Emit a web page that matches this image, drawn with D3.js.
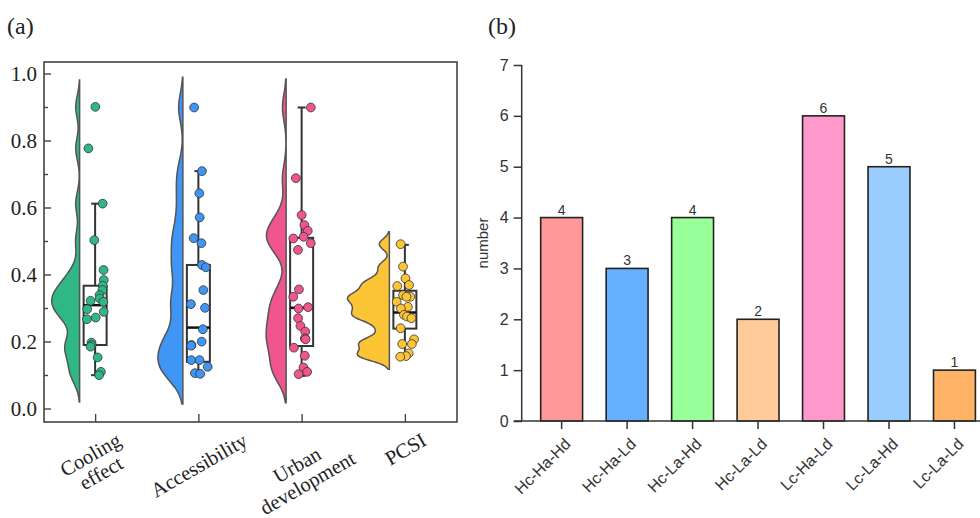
<!DOCTYPE html>
<html>
<head>
<meta charset="utf-8">
<script src="https://cdn.jsdelivr.net/npm/d3@7"></script>
<style>
  body { margin: 0; background: #fff; }
  svg { display: block; }
</style>
</head>
<body>
<svg id="chart" width="980" height="518"></svg>
<script>
// ---- panel (a) data ----
const categories = ["Cooling effect", "Accessibility", "Urban development", "PCSI"];
const cooling = [0.902, 0.778, 0.613, 0.504, 0.415, 0.385, 0.368, 0.355, 0.340, 0.330, 0.323,
  0.320, 0.298, 0.290, 0.273, 0.268, 0.198, 0.191, 0.186, 0.154, 0.111, 0.101];
const accessibility = [0.900, 0.710, 0.644, 0.572, 0.510, 0.495, 0.430, 0.423, 0.355, 0.313,
  0.302, 0.238, 0.201, 0.191, 0.189, 0.146, 0.146, 0.126, 0.107, 0.105];
const urban = [0.900, 0.689, 0.579, 0.549, 0.532, 0.514, 0.509, 0.495, 0.475, 0.357, 0.335,
  0.304, 0.300, 0.271, 0.248, 0.231, 0.211, 0.208, 0.183, 0.159, 0.124, 0.111, 0.104];
const pcsi = [0.492, 0.425, 0.390, 0.370, 0.367, 0.340, 0.335, 0.335, 0.320, 0.305, 0.300,
  0.281, 0.276, 0.271, 0.241, 0.208, 0.194, 0.194, 0.166, 0.158, 0.156];
// box plot stats
const q1 = [0.191, 0.141, 0.188, 0.240];
const medians = [0.310, 0.243, 0.302, 0.288];
const q3 = [0.368, 0.430, 0.511, 0.353];
const whiskerLow = [0.101, 0.105, 0.099, 0.156];
const whiskerHigh = [0.613, 0.710, 0.900, 0.490];
const yTicksA = [0, 0.2, 0.4, 0.6, 0.8, 1.0];

// ---- panel (b) data ----
const groups = ["Hc-Ha-Hd", "Hc-Ha-Ld", "Hc-La-Hd", "Hc-La-Ld", "Lc-Ha-Ld", "Lc-La-Hd", "Lc-La-Ld"];
const counts = [4, 3, 4, 2, 6, 5, 1];
const yTicksB = [0, 1, 2, 3, 4, 5, 6, 7];

const seriesA = [cooling, accessibility, urban, pcsi];
const colorsA = ["#2fb886", "#3f95f3", "#f0558f", "#fcc536"];
// kde settings and drawn violin half-widths
const bandwidths = [0.034, 0.042, 0.04, 0.016];
const cutoffs = [0.08, 0.09, 0.085, 0.037];
const maxWidths = [28, 25, 20, 42];
const colorsB = ["#ff9999", "#66b0ff", "#99ff99", "#ffcc99", "#ff99cc", "#99ccff", "#ffb366"];

const svg = d3.select("#chart");
const serif = "'Liberation Serif', 'Times New Roman', serif";
const sans = "'Liberation Sans', Arial, sans-serif";

// ================= panel (a) =================
const A = { left: 44, right: 457, top: 62, bottom: 422 };
const yA = d3.scaleLinear().domain([0, 1]).range([409, 74]);
const xA = d3.scalePoint().domain(categories).range([A.left, A.right]).padding(0.5);

svg.append("text").attr("x", 7).attr("y", 34)
  .attr("font-family", serif).attr("font-size", 24).attr("fill", "#222").text("(a)");

const gA = svg.append("g");

// kde
function kde(values, bw, grid) {
  const n = values.length;
  return grid.map(v => {
    let s = 0;
    for (const xi of values) {
      const u = (v - xi) / bw;
      s += Math.exp(-0.5 * u * u);
    }
    return { v: v, d: s / (n * bw * Math.sqrt(2 * Math.PI)) };
  });
}

const densities = seriesA.map((vals, i) => {
  const lo = d3.min(vals) - cutoffs[i], hi = d3.max(vals) + cutoffs[i];
  const grid = d3.range(0, 121).map(k => lo + (hi - lo) * k / 120);
  return kde(vals, bandwidths[i], grid);
});

categories.forEach((c, i) => {
  const cx = xA(c);
  const edge = cx - 16;
  const wScale = d3.scaleLinear()
    .domain([0, d3.max(densities[i], d => d.d)]).range([0, maxWidths[i]]);
  const area = d3.area()
    .y(d => yA(d.v))
    .x0(edge)
    .x1(d => edge - wScale(d.d))
    .curve(d3.curveBasis);
  gA.append("path")
    .attr("d", area(densities[i]))
    .attr("fill", colorsA[i])
    .attr("stroke", "#555")
    .attr("stroke-width", 1.5);

  // whiskers
  const bx = cx - 0.5;
  gA.append("line").attr("x1", bx).attr("x2", bx)
    .attr("y1", yA(q3[i])).attr("y2", yA(whiskerHigh[i]))
    .attr("stroke", "#333").attr("stroke-width", 2);
  gA.append("line").attr("x1", bx).attr("x2", bx)
    .attr("y1", yA(q1[i])).attr("y2", yA(whiskerLow[i]))
    .attr("stroke", "#333").attr("stroke-width", 2);
  [whiskerHigh[i], whiskerLow[i]].forEach(w => {
    gA.append("line").attr("x1", bx - 4).attr("x2", bx + 4)
      .attr("y1", yA(w)).attr("y2", yA(w))
      .attr("stroke", "#333").attr("stroke-width", 2);
  });
  // box
  gA.append("rect")
    .attr("x", bx - 11.5).attr("width", 23)
    .attr("y", yA(q3[i])).attr("height", yA(q1[i]) - yA(q3[i]))
    .attr("fill", "none").attr("stroke", "#333").attr("stroke-width", 2);
  gA.append("line").attr("x1", bx - 11.5).attr("x2", bx + 11.5)
    .attr("y1", yA(medians[i])).attr("y2", yA(medians[i]))
    .attr("stroke", "#111").attr("stroke-width", 2.5);

  // jittered points
  const rnd = d3.randomUniform.source(d3.randomLcg(0.17 + i * 0.31))(-9, 9);
  gA.selectAll(null)
    .data(seriesA[i])
    .join("circle")
    .attr("cx", () => cx + rnd())
    .attr("cy", d => yA(d))
    .attr("r", 4.4)
    .attr("fill", colorsA[i])
    .attr("stroke", "#333")
    .attr("stroke-width", 0.8);
});

// frame
gA.append("rect")
  .attr("x", A.left).attr("y", A.top)
  .attr("width", A.right - A.left).attr("height", A.bottom - A.top)
  .attr("fill", "none").attr("stroke", "#444").attr("stroke-width", 1.6);

// y ticks (inward) with minors
d3.range(0, 1.0001, 0.1).forEach((t, k) => {
  const major = k % 2 === 0;
  gA.append("line")
    .attr("x1", A.left).attr("x2", A.left + (major ? 7 : 4))
    .attr("y1", yA(t)).attr("y2", yA(t))
    .attr("stroke", "#444").attr("stroke-width", 1.4);
});
gA.selectAll(".ytl")
  .data(yTicksA)
  .join("text")
  .attr("x", 37).attr("y", d => yA(d)).attr("dy", "0.35em")
  .attr("text-anchor", "end")
  .attr("font-family", serif).attr("font-size", 21).attr("fill", "#222")
  .text(d => d3.format(".1f")(d));

// x ticks inward
categories.forEach(c => {
  gA.append("line").attr("x1", xA(c)).attr("x2", xA(c))
    .attr("y1", A.bottom).attr("y2", A.bottom - 8)
    .attr("stroke", "#444").attr("stroke-width", 1.4);
});

// rotated category labels
categories.forEach(c => {
  const lines = c.split(" ");
  const lh = 21;
  const g = gA.append("g");
  const t = g.append("text")
    .attr("text-anchor", "middle")
    .attr("font-family", serif).attr("font-size", 20.5).attr("fill", "#222");
  lines.forEach((ln, k) => {
    t.append("tspan").attr("x", 0)
      .attr("y", (k - (lines.length - 1) / 2) * lh)
      .attr("dy", "0.35em").text(ln);
  });
  const w = t.node().getBBox().width;
  const h = lines.length * lh;
  const ang = 30 * Math.PI / 180;
  const cy = 429 + (w / 2) * Math.sin(ang) + (h / 2) * Math.cos(ang);
  g.attr("transform", `translate(${xA(c)},${cy}) rotate(-30)`);
});

// ================= panel (b) =================
const B = { left: 521.7, bottom: 421, top: 65 };
const yB = d3.scaleLinear().domain([0, 7]).range([B.bottom, B.top]);
const xB = d3.scaleBand().domain(groups).range([B.left, 994.4])
  .paddingInner(0.36).paddingOuter(0.29);

svg.append("text").attr("x", 488).attr("y", 34)
  .attr("font-family", serif).attr("font-size", 24).attr("fill", "#222").text("(b)");

const gB = svg.append("g");

gB.selectAll(".bar")
  .data(counts)
  .join("rect")
  .attr("class", "bar")
  .attr("x", (d, i) => xB(groups[i]))
  .attr("width", xB.bandwidth())
  .attr("y", d => yB(d))
  .attr("height", d => yB(0) - yB(d))
  .attr("fill", (d, i) => colorsB[i])
  .attr("stroke", "#222").attr("stroke-width", 1.6);

gB.selectAll(".val")
  .data(counts)
  .join("text")
  .attr("x", (d, i) => xB(groups[i]) + xB.bandwidth() / 2)
  .attr("y", d => yB(d) - 3)
  .attr("text-anchor", "middle")
  .attr("font-family", sans).attr("font-size", 14).attr("fill", "#333")
  .text(d => d);

// y axis
const yAxisB = gB.append("g")
  .attr("transform", `translate(${B.left},0)`)
  .call(d3.axisLeft(yB).tickValues(yTicksB).tickFormat(d3.format("d")).tickSize(8).tickPadding(5));
yAxisB.select(".domain").attr("stroke", "#333").attr("stroke-width", 1.5)
  .attr("d", `M0,${B.top}V${B.bottom}`);
yAxisB.selectAll(".tick line").attr("stroke", "#333").attr("stroke-width", 1.5);
yAxisB.selectAll(".tick text").attr("font-family", sans).attr("font-size", 16).attr("fill", "#333");

// x axis
const xAxisB = gB.append("g")
  .attr("transform", `translate(0,${B.bottom})`)
  .call(d3.axisBottom(xB).tickSize(8));
xAxisB.select(".domain").attr("stroke", "#333").attr("stroke-width", 1.5)
  .attr("d", `M${B.left - 8},0H980`);
xAxisB.selectAll(".tick line").attr("stroke", "#333").attr("stroke-width", 1.5);
xAxisB.selectAll(".tick text")
  .attr("font-family", sans).attr("font-size", 16).attr("fill", "#333")
  .attr("text-anchor", "end")
  .attr("dy", 0)
  .attr("x", 0).attr("y", 0)
  .attr("transform", "translate(10,24) rotate(-45)");

svg.append("text")
  .attr("transform", `translate(488,243) rotate(-90)`)
  .attr("text-anchor", "middle")
  .attr("font-family", sans).attr("font-size", 15).attr("fill", "#333")
  .text("number");
</script>
</body>
</html>
